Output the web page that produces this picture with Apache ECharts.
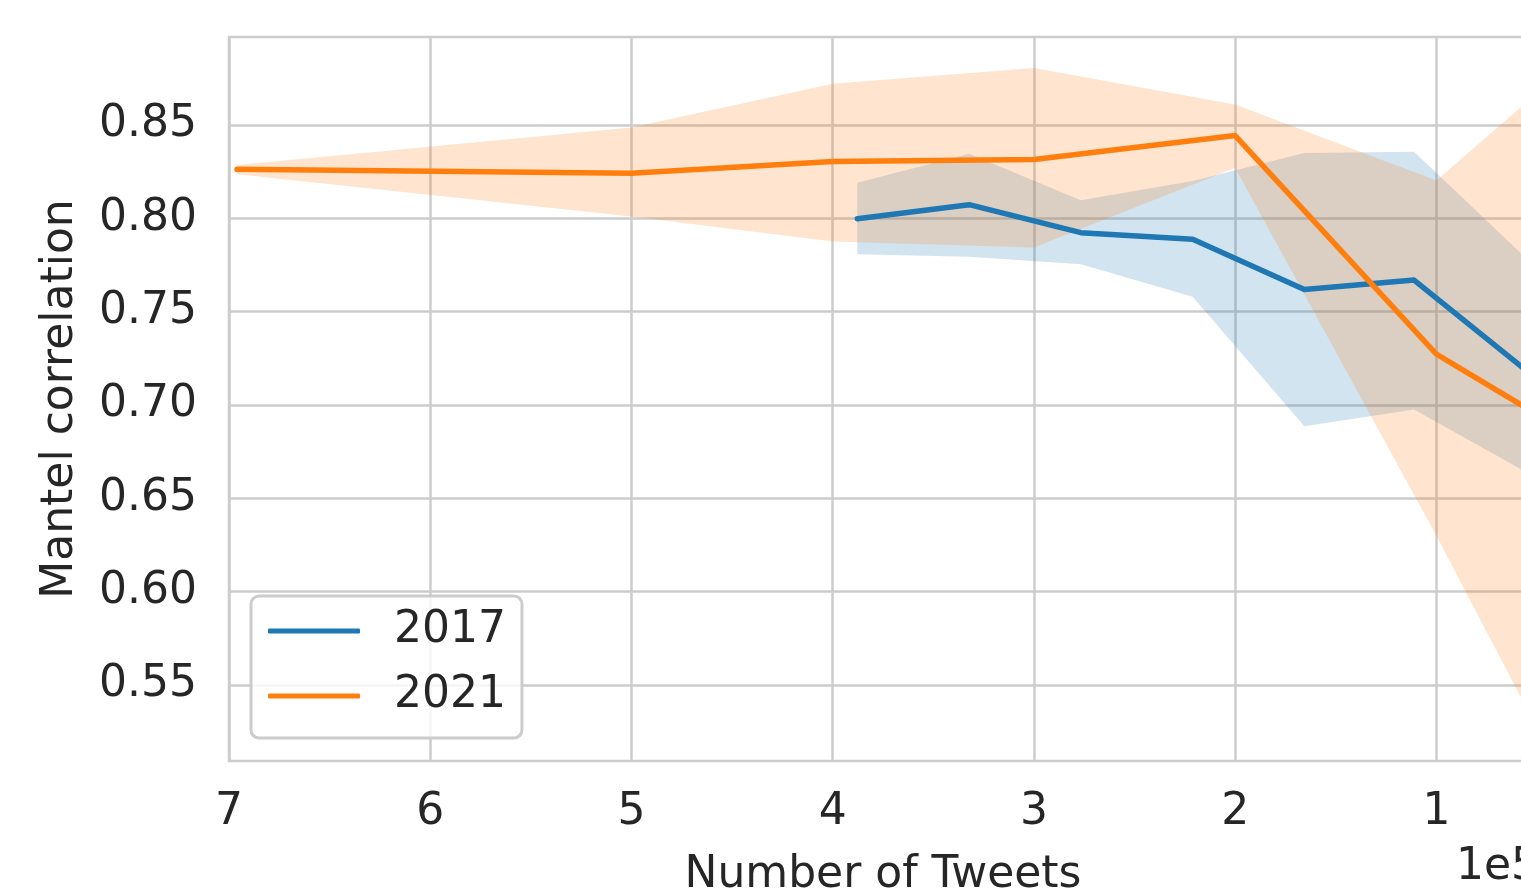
<!DOCTYPE html>
<html><head><meta charset="utf-8">
<script src="https://cdn.jsdelivr.net/npm/echarts@6/dist/echarts.min.js"></script>
<style>html,body{margin:0;padding:0;background:#fff}#c{width:1521px;height:891px}</style>
</head><body><div id="c"></div>
<script>
// ---- data (x in units of 1e5 tweets) ----
const x2017 = [3.878, 3.322, 2.767, 2.211, 1.656, 1.111, 0.555];
const mean2017 = [0.7998, 0.8073, 0.7923, 0.7888, 0.7619, 0.7669, 0.7186];
const upper2017 = [0.8190, 0.8345, 0.8096, 0.8200, 0.8350, 0.8357, 0.7787];
const lower2017 = [0.7808, 0.7794, 0.7754, 0.7580, 0.6886, 0.6976, 0.6641];
const x2021 = [6.96, 5, 4, 3, 2, 1, 0.5];
const mean2021 = [0.8262, 0.8241, 0.8304, 0.8315, 0.8443, 0.7272, 0.6950];
const upper2021 = [0.8286, 0.8486, 0.8720, 0.8805, 0.8610, 0.8202, 0.8670];
const lower2021 = [0.8236, 0.8010, 0.7875, 0.7843, 0.8270, 0.6300, 0.5270];
const xTicks = [1, 2, 3, 4, 5, 6, 7];
const yTicks = [0.55, 0.60, 0.65, 0.70, 0.75, 0.80, 0.85];
const seriesNames = ['2017', '2021'];

const BLUE = '#1f77b4', ORANGE = '#ff7f0e';
const TXT = '#262626', GRID = '#cccccc', FONT = 'DejaVu Sans';
const FS = 44;

const pairs = (xs, ys) => xs.map((x, i) => [x, ys[i]]);

function band(xs, up, lo, color) {
  return {
    type: 'custom', silent: true, clip: true, z: 1,
    data: xs.map((x, i) => [x, up[i], lo[i]]),
    encode: { x: 0, y: [1, 2] },
    renderItem: (params, api) => {
      if (params.dataIndex !== 0) return null;
      const top = xs.map((x, i) => api.coord([x, up[i]]));
      const bot = xs.map((x, i) => api.coord([x, lo[i]])).reverse();
      return { type: 'polygon', shape: { points: top.concat(bot) }, style: { fill: color, stroke: null } };
    }
  };
}

const chart = echarts.init(document.getElementById('c'), null, { renderer: 'canvas' });
chart.setOption({
  animation: false,
  backgroundColor: '#ffffff',
  textStyle: { fontFamily: FONT, color: TXT },
  grid: { left: 229, top: 37, width: 1308, height: 724, containLabel: false, outerBoundsMode: 'none',
          show: true, borderColor: GRID, borderWidth: 2.5, backgroundColor: '#fff' },
  xAxis: {
    type: 'value', inverse: true, min: 0.5, max: 7,
    axisLine: { show: false },
    axisTick: { show: false, customValues: xTicks },
    axisLabel: { customValues: xTicks, formatter: v => String(v), fontSize: FS, color: TXT, margin: 30, fontFamily: FONT },
    splitLine: { show: true, lineStyle: { color: GRID, width: 2.5 } },
    name: 'Number of Tweets', nameLocation: 'middle', nameGap: 93,
    nameTextStyle: { fontSize: FS, color: TXT, fontFamily: FONT }
  },
  yAxis: {
    type: 'value', min: 0.5093, max: 0.8971,
    axisLine: { show: false },
    axisTick: { show: false, customValues: yTicks },
    axisLabel: { customValues: yTicks, formatter: v => v.toFixed(2), fontSize: FS, color: TXT, margin: 32, fontFamily: FONT },
    splitLine: { show: true, lineStyle: { color: GRID, width: 2.5 } },
    name: 'Mantel correlation', nameLocation: 'middle', nameGap: 146, nameRotate: 90,
    nameTextStyle: { fontSize: FS, color: TXT, fontFamily: FONT }
  },
  legend: {
    orient: 'vertical', left: 251, top: 596,
    data: seriesNames,
    itemWidth: 92, itemHeight: 5, itemGap: 21, icon: 'roundRect',
    padding: [13, 16, 20, 17],
    backgroundColor: 'rgba(255,255,255,0.8)', borderColor: GRID, borderWidth: 3, borderRadius: 8,
    textStyle: { fontSize: FS, color: TXT, fontFamily: FONT, lineHeight: 44, padding: [0, 0, 0, 29] }
  },
  graphic: [
    { type: 'text', left: 1456, top: 846, style: { text: '1e5', font: FS + 'px "DejaVu Sans"', fill: TXT } }
  ],
  series: [
    band(x2017, upper2017, lower2017, 'rgba(31,119,180,0.2)'),
    band(x2021, upper2021, lower2021, 'rgba(255,127,14,0.2)'),
    { name: seriesNames[0], type: 'line', data: pairs(x2017, mean2017), symbol: 'none', color: BLUE,
      lineStyle: { color: BLUE, width: 5.5, cap: 'round', join: 'round' }, z: 3 },
    { name: seriesNames[1], type: 'line', data: pairs(x2021, mean2021), symbol: 'none', color: ORANGE,
      lineStyle: { color: ORANGE, width: 5.5, cap: 'round', join: 'round' }, z: 4 }
  ]
});
</script></body></html>
